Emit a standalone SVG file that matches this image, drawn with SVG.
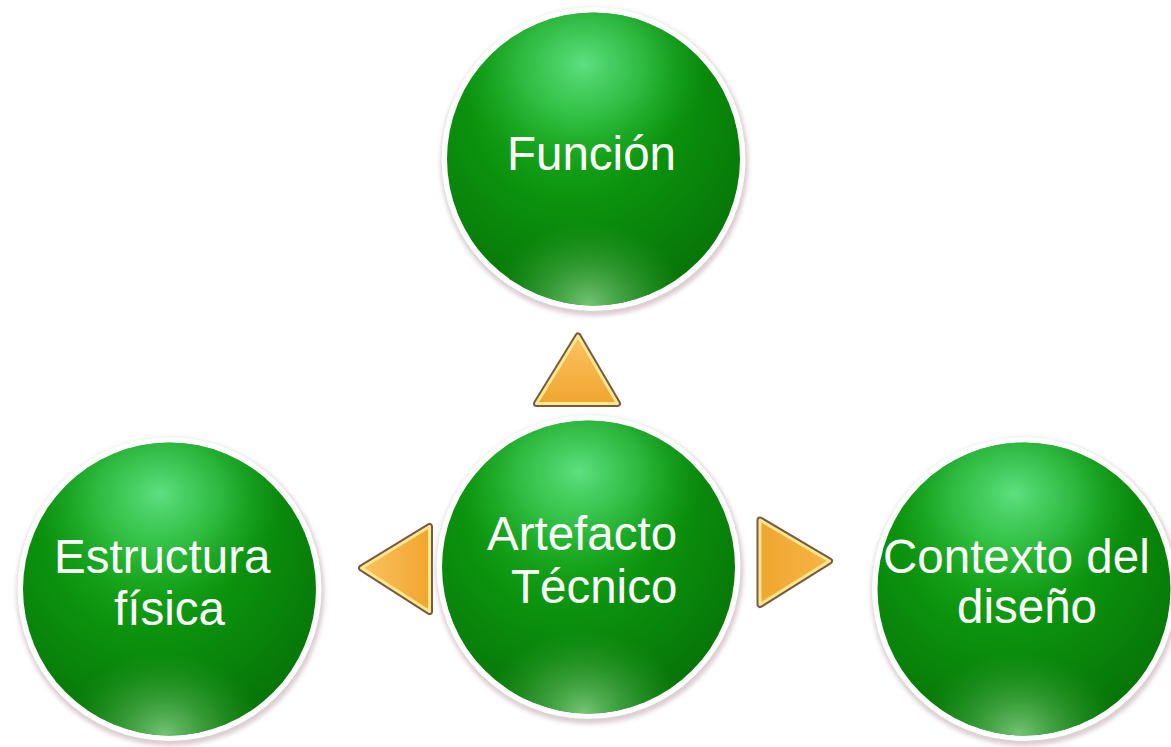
<svg xmlns="http://www.w3.org/2000/svg" xmlns:xlink="http://www.w3.org/1999/xlink" width="1171" height="747" viewBox="0 0 1171 747">
<style>
.lbl{font-family:"Liberation Sans",Arial,sans-serif;font-size:47.5px;fill:#ffffff;}
.triOut{fill:none;stroke:#7a5846;stroke-width:7;stroke-linejoin:round;}
.triIn{stroke:#ffe98a;stroke-width:3;stroke-linejoin:round;}
</style>
<defs>
<radialGradient id="gBase" cx="0.42" cy="0.3" r="0.8">
<stop offset="0" stop-color="#22b526"/>
<stop offset="0.45" stop-color="#0b910d"/>
<stop offset="1" stop-color="#066d07"/>
</radialGradient>
<radialGradient id="gTop" cx="0.5" cy="0.5" r="0.5">
<stop offset="0" stop-color="#5ee081" stop-opacity="1"/>
<stop offset="0.5" stop-color="#40cc5c" stop-opacity="0.6"/>
<stop offset="1" stop-color="#20b030" stop-opacity="0"/>
</radialGradient>
<radialGradient id="gBot" cx="0.5" cy="0.5" r="0.5">
<stop offset="0" stop-color="#74c474" stop-opacity="1"/>
<stop offset="0.5" stop-color="#48a848" stop-opacity="0.6"/>
<stop offset="1" stop-color="#2a9a2a" stop-opacity="0"/>
</radialGradient>
<linearGradient id="tUp" x1="0" y1="0" x2="0" y2="1">
<stop offset="0" stop-color="#fcc262"/>
<stop offset="1" stop-color="#f0a52f"/>
</linearGradient>
<linearGradient id="tLeft" x1="0" y1="0" x2="1" y2="0">
<stop offset="0" stop-color="#fcc262"/>
<stop offset="1" stop-color="#f0a52f"/>
</linearGradient>
<linearGradient id="tRight" x1="0" y1="0" x2="1" y2="0">
<stop offset="0" stop-color="#f0a630"/>
<stop offset="1" stop-color="#f6b445"/>
</linearGradient>
<filter id="blur" x="-10%" y="-10%" width="120%" height="120%">
<feGaussianBlur stdDeviation="2"/>
</filter>
<clipPath id="clipG">
<circle cx="0" cy="0" r="146.5"/>
</clipPath>
<g id="sphere">
<circle cx="1" cy="3" r="154" fill="#dccdd1" filter="url(#blur)"/>
<circle cx="0" cy="0" r="152" fill="#ffffff"/>
<circle cx="0" cy="0" r="146.5" fill="url(#gBase)"/>
<g clip-path="url(#clipG)">
<ellipse cx="-10" cy="-95" rx="125" ry="105" fill="url(#gTop)"/>
<ellipse cx="-5" cy="145" rx="100" ry="82" fill="url(#gBot)"/>
</g>
</g>
</defs>

<g id="connectors">
<polygon class="triOut" points="578,336 617.5,403.5 536.5,403.5"/>
<polygon class="triIn" fill="url(#tUp)" points="578,336 617.5,403.5 536.5,403.5"/>
<polygon class="triOut" points="361.5,568 429.5,526.5 429.5,611.5"/>
<polygon class="triIn" fill="url(#tLeft)" points="361.5,568 429.5,526.5 429.5,611.5"/>
<polygon class="triOut" points="760,520 829.5,561 760,604.5"/>
<polygon class="triIn" fill="url(#tRight)" points="760,520 829.5,561 760,604.5"/>
</g>

<g id="node-funcion">
<use xlink:href="#sphere" href="#sphere" transform="translate(593.5,159)"/>
<text class="lbl" x="507" y="170">Función</text>
</g>

<g id="node-artefacto">
<use xlink:href="#sphere" href="#sphere" transform="translate(588.5,567)"/>
<text class="lbl" x="487" y="550">Artefacto</text>
<text class="lbl" x="511" y="603">Técnico</text>
</g>

<g id="node-estructura">
<use xlink:href="#sphere" href="#sphere" transform="translate(169.5,589)"/>
<text class="lbl" x="54" y="573">Estructura</text>
<text class="lbl" x="114" y="625">física</text>
</g>

<g id="node-contexto">
<use xlink:href="#sphere" href="#sphere" transform="translate(1024,589)"/>
<text class="lbl" x="883" y="573">Contexto del</text>
<text class="lbl" x="957" y="623">diseño</text>
</g>
</svg>
